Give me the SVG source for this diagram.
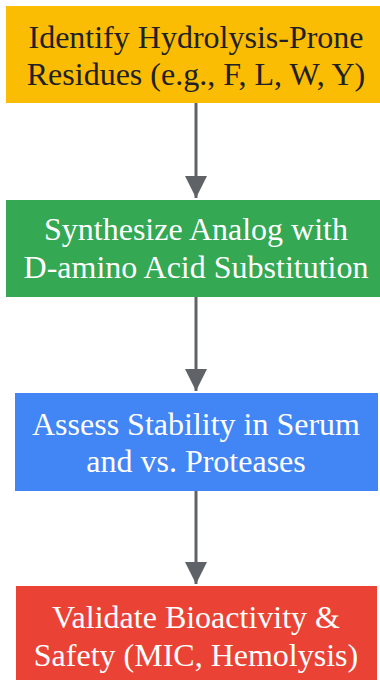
<svg xmlns="http://www.w3.org/2000/svg" width="380" height="680" viewBox="0 0 380 680">
<style>
text{font-family:"Liberation Serif","Times New Roman",serif;font-size:32px;text-anchor:middle}
.d{fill:#202124}.w{fill:#ffffff}
.c{stroke:#5f6368;stroke-width:3;fill:none}
</style>
<defs><marker id="ah" markerUnits="userSpaceOnUse" markerWidth="22" markerHeight="34" refX="22" refY="11" orient="auto" viewBox="0 0 22 22"><path d="M0,0 L22,11 L0,22 Z" fill="#5f6368"/></marker></defs>
<rect width="380" height="680" fill="#ffffff"/>
<g id="connectors">
<line class="c" x1="196" y1="103" x2="196" y2="198" marker-end="url(#ah)"/>
<line class="c" x1="196" y1="297" x2="196" y2="391" marker-end="url(#ah)"/>
<line class="c" x1="196" y1="491" x2="196" y2="584" marker-end="url(#ah)"/>
</g>
<g id="n1"><rect x="6" y="6" width="374" height="97" fill="#fbbc04"/><text class="d" x="196" y="48">Identify Hydrolysis-Prone</text><text class="d" x="196" y="85">Residues (e.g., F, L, W, Y)</text></g>
<g id="n2"><rect x="6" y="200" width="374" height="97" fill="#34a853"/><text class="w" x="196" y="240">Synthesize Analog with</text><text class="w" x="196" y="278">D-amino Acid Substitution</text></g>
<g id="n3"><rect x="15" y="393" width="363" height="98" fill="#4285f4"/><text class="w" x="196" y="435">Assess Stability in Serum</text><text class="w" x="196" y="472">and vs. Proteases</text></g>
<g id="n4"><rect x="16" y="586" width="361" height="94" fill="#ea4335"/><text class="w" x="196" y="628">Validate Bioactivity &amp;</text><text class="w" x="196" y="666">Safety (MIC, Hemolysis)</text></g>
</svg>
